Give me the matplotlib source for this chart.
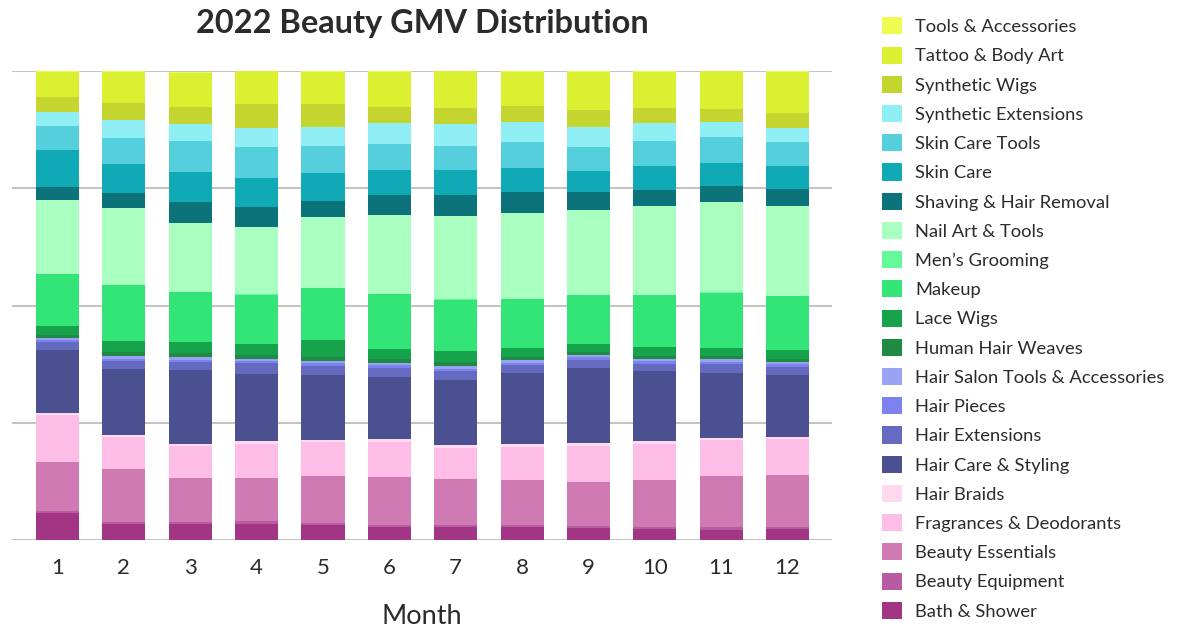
import matplotlib
matplotlib.use('Agg')
import matplotlib.pyplot as plt
import numpy as np

plt.rcParams['font.family'] = ['Lato', 'DejaVu Sans']

# ---------------------------------------------------------------------------
# Data: share of GMV (%) per month, bottom of stack first
# ---------------------------------------------------------------------------
MONTHS = [1, 2, 3, 4, 5, 6, 7, 8, 9, 10, 11, 12]

bath_shower       = [5.76, 3.41, 3.41, 3.41, 3.2, 2.77, 2.77, 2.77, 2.56, 2.35, 2.13, 2.35]
beauty_equipment  = [0.5, 0.43, 0.43, 0.64, 0.43, 0.43, 0.43, 0.43, 0.43, 0.43, 0.64, 0.43]
beauty_essentials = [10.4, 11.3, 9.4, 9.2, 10.0, 10.2, 9.8, 9.6, 9.4, 10.0, 10.9, 11.1]
fragrances        = [10.0, 6.8, 6.8, 7.25, 7.25, 7.5, 6.6, 7.0, 7.7, 7.7, 7.7, 7.7]
hair_braids       = [0.43, 0.43, 0.43, 0.64, 0.43, 0.64, 0.64, 0.64, 0.64, 0.64, 0.43, 0.43]
hair_care         = [13.4, 14.1, 15.8, 14.3, 13.9, 13.2, 13.9, 15.1, 16.0, 14.9, 13.9, 13.2]
hair_extensions   = [1.7, 1.7, 1.7, 2.3, 1.9, 2.0, 1.9, 1.8, 1.7, 1.5, 1.8, 1.7]
hair_pieces       = [0.4, 0.5, 0.5, 0.43, 0.57, 0.5, 0.5, 0.5, 0.64, 0.64, 0.43, 0.64]
hair_salon_tools  = [0.4, 0.57, 0.5, 0.5, 0.5, 0.5, 0.57, 0.5, 0.43, 0.43, 0.57, 0.43]
human_hair_weaves = [0.64, 0.85, 0.85, 0.85, 0.85, 0.85, 0.85, 0.64, 0.64, 0.64, 0.64, 0.64]
lace_wigs         = [1.9, 2.35, 2.35, 2.35, 3.6, 2.1, 2.35, 1.9, 1.7, 1.9, 1.7, 1.9]
makeup            = [11.1, 11.9, 10.7, 10.4, 11.1, 11.7, 10.9, 10.4, 10.4, 11.1, 11.9, 11.5]
mens_grooming     = [0.1] * 12
nail_art          = [15.8, 16.4, 14.7, 14.3, 15.1, 16.8, 17.7, 18.3, 18.1, 18.8, 19.2, 19.2]
shaving           = [2.8, 3.2, 4.3, 4.3, 3.4, 4.3, 4.5, 4.5, 3.8, 3.6, 3.4, 3.6]
skin_care         = [7.9, 6.2, 6.6, 6.2, 6.0, 5.3, 5.3, 5.1, 4.5, 5.1, 4.9, 4.9]
skin_care_tools   = [5.1, 5.5, 6.4, 6.6, 5.75, 5.5, 5.3, 5.5, 5.1, 5.3, 5.5, 5.1]
synth_extensions  = [3.0, 3.8, 3.8, 4.05, 4.05, 4.5, 4.5, 4.3, 4.3, 3.8, 3.2, 3.0]
synth_wigs        = [3.2, 3.6, 3.6, 5.1, 4.9, 3.4, 3.6, 3.4, 3.6, 3.2, 2.8, 3.2]
tattoo_body_art   = [5.3, 6.6, 7.2, 7.0, 6.8, 7.5, 7.7, 7.25, 8.1, 7.7, 8.1, 8.7]
tools_accessories = [0.2] * 12

SERIES = [
    ('Bath & Shower', bath_shower, '#a33585'),
    ('Beauty Equipment', beauty_equipment, '#b85ba0'),
    ('Beauty Essentials', beauty_essentials, '#d07ab4'),
    ('Fragrances & Deodorants', fragrances, '#febde6'),
    ('Hair Braids', hair_braids, '#ffd9ef'),
    ('Hair Care & Styling', hair_care, '#4a5090'),
    ('Hair Extensions', hair_extensions, '#636ac0'),
    ('Hair Pieces', hair_pieces, '#7c83ee'),
    ('Hair Salon Tools & Accessories', hair_salon_tools, '#9aa3f2'),
    ('Human Hair Weaves', human_hair_weaves, '#1f8a44'),
    ('Lace Wigs', lace_wigs, '#17a34c'),
    ('Makeup', makeup, '#33e476'),
    ("Men\u2019s Grooming", mens_grooming, '#64fa9c'),
    ('Nail Art & Tools', nail_art, '#a8ffc0'),
    ('Shaving & Hair Removal', shaving, '#0c737b'),
    ('Skin Care', skin_care, '#10a9b6'),
    ('Skin Care Tools', skin_care_tools, '#55cfdb'),
    ('Synthetic Extensions', synth_extensions, '#90eff5'),
    ('Synthetic Wigs', synth_wigs, '#c5d52f'),
    ('Tattoo & Body Art', tattoo_body_art, '#dcf032'),
    ('Tools & Accessories', tools_accessories, '#eefc52'),
]

TEXT = '#2b2b2b'

fig = plt.figure(figsize=(11.86, 6.29), dpi=100)
ax = fig.add_axes([12 / 1186, 89 / 629, 820 / 1186, 469 / 629])

bottom = np.zeros(len(MONTHS))
handles = []
for label, vals, color in SERIES:
    vals = np.array(vals)
    h = ax.bar(MONTHS, vals, bottom=bottom, width=0.65, color=color,
               label=label, zorder=3, linewidth=0)
    handles.append(h)
    bottom += vals

ax.set_xlim(0.314, 12.67)
ax.set_ylim(0, 100)
ax.set_yticks([0, 25, 50, 75, 100])
ax.set_yticklabels([])
ax.tick_params(axis='y', length=0)
ax.set_xticks(MONTHS)
ax.tick_params(axis='x', length=0, pad=13, labelsize=16, labelcolor=TEXT)
ax.grid(axis='y', color='#c4c4c4', linewidth=1.5, zorder=0)
for s in ax.spines.values():
    s.set_visible(False)
ax.set_xlabel('Month', fontsize=19.5, color=TEXT, labelpad=19)

fig.text(422 / 1186, 1 - 23 / 629, '2022 Beauty GMV Distribution',
         ha='center', va='center', fontsize=23.4, fontweight='bold', color=TEXT)

leg = fig.legend(handles[::-1], [s[0] for s in SERIES][::-1],
                 loc='upper left', bbox_to_anchor=(875 / 1186, 1 - 10 / 629),
                 frameon=False, fontsize=13.25, handlelength=1.05, handleheight=1.05,
                 labelspacing=0.62, handletextpad=0.75, borderaxespad=0)
for t in leg.get_texts():
    t.set_color(TEXT)

fig.savefig('out.png', dpi=100)
